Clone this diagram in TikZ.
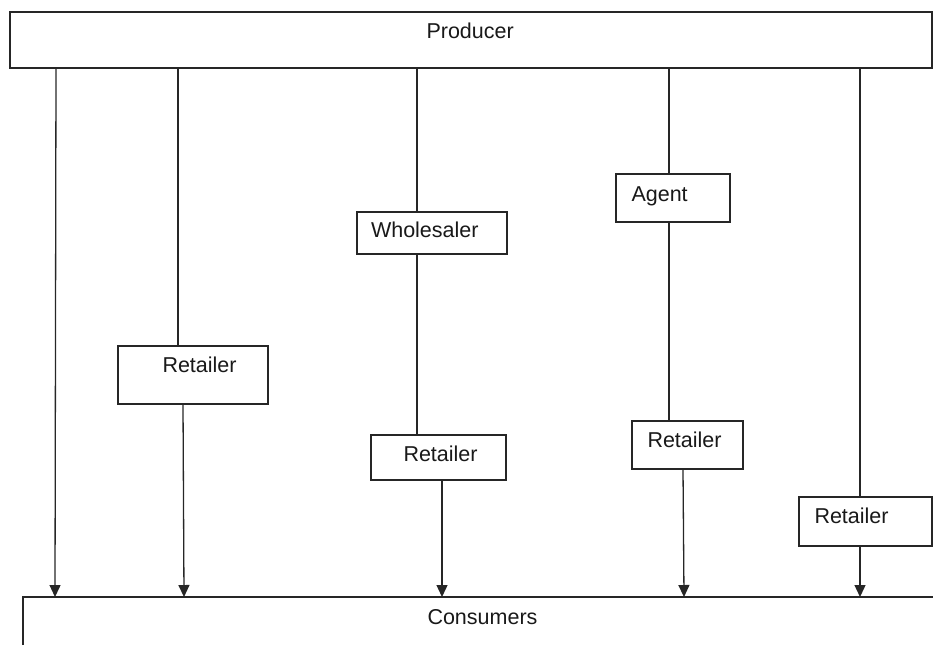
\documentclass[tikz,border=0pt]{standalone}
\usepackage{fontspec}
\setmainfont{Liberation Sans}
\usetikzlibrary{arrows.meta}
\begin{document}
\begin{tikzpicture}[x=1pt,y=-1pt,
  ln/.style={line width=1.3pt,draw=black!85},
  box/.style={ln,rectangle,inner sep=0pt,outer sep=0pt,anchor=north west,fill=white},
  lbl/.style={anchor=base west,inner sep=0pt,outer sep=0pt,font=\fontsize{21.5}{25}\selectfont,text=black!90},
  arr/.style={ln,-{Triangle[width=11pt,length=12pt]}},
  con/.style={ln}]
\useasboundingbox (0,0) rectangle (933,645);
% boxes
\node[box,minimum width=922pt,minimum height=56pt] (prod) at (10,12) {};
\node[anchor=north west,inner sep=0pt,outer sep=0pt,minimum width=910pt,minimum height=48pt] (cons) at (23,597) {};
\draw[ln] (cons.south west) -- (cons.north west) -- (cons.north east);
\node[box,minimum width=150pt,minimum height=58pt] (r1) at (118,346) {};
\node[box,minimum width=150pt,minimum height=42pt] (ws) at (357,212) {};
\node[box,minimum width=135pt,minimum height=45pt] (r2) at (371,435) {};
\node[box,minimum width=114pt,minimum height=48pt] (ag) at (616,174) {};
\node[box,minimum width=111pt,minimum height=48pt] (r3) at (632,421) {};
\node[box,minimum width=133pt,minimum height=49pt] (r4) at (799,497) {};
% labels
\node[lbl] (tprod) at (426.5,38) {Producer};
\node[lbl] (tcons) at (427.5,624) {Consumers};
\node[lbl] (tr1) at (162.5,372) {Retailer};
\node[lbl] (tws) at (371,237) {Wholesaler};
\node[lbl] (tr2) at (403.5,461) {Retailer};
\node[lbl] (tag) at (631.5,201) {Agent};
\node[lbl] (tr3) at (647.5,447) {Retailer};
\node[lbl] (tr4) at (814.5,523) {Retailer};
% connectors
\draw[arr] ([xshift=46pt]prod.south west) -- ([xshift=32pt]cons.north west);
\draw[con] ([xshift=168pt]prod.south west) -- ([xshift=60pt]r1.north west);
\draw[arr] ([xshift=65pt]r1.south west) -- ([xshift=161pt]cons.north west);
\draw[con] ([xshift=407pt]prod.south west) -- ([xshift=60pt]ws.north west);
\draw[con] ([xshift=60pt]ws.south west) -- ([xshift=46pt]r2.north west);
\draw[arr] ([xshift=71pt]r2.south west) -- ([xshift=419pt]cons.north west);
\draw[con] ([xshift=659pt]prod.south west) -- ([xshift=53pt]ag.north west);
\draw[con] ([xshift=53pt]ag.south west) -- ([xshift=37pt]r3.north west);
\draw[arr] ([xshift=51pt]r3.south west) -- ([xshift=661pt]cons.north west);
\draw[con] ([xshift=850pt]prod.south west) -- ([xshift=61pt]r4.north west);
\draw[arr] ([xshift=61pt]r4.south west) -- ([xshift=837pt]cons.north west);
\end{tikzpicture}
\end{document}
